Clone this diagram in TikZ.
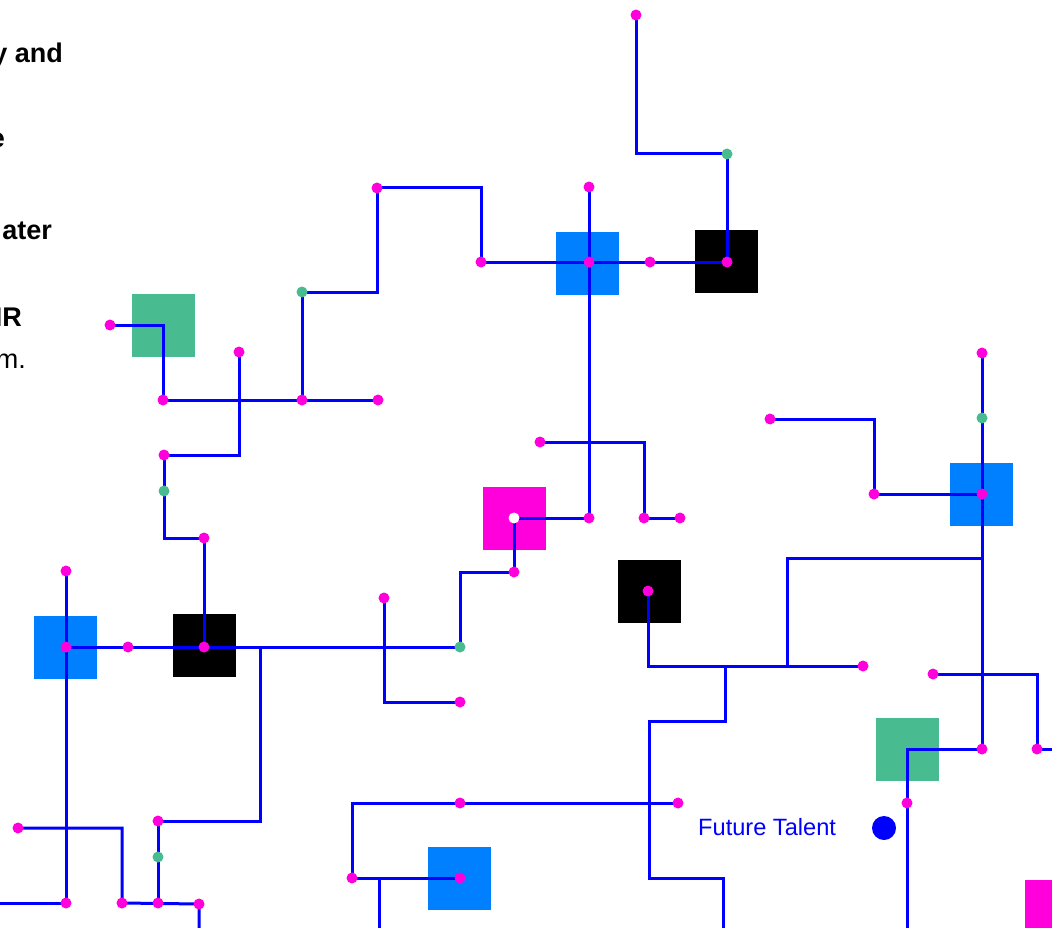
\documentclass[tikz,border=0pt]{standalone}
\usepackage{fontspec}
\setmainfont{Liberation Sans}
\definecolor{lineblue}{RGB}{0,0,255}
\definecolor{mag}{RGB}{255,0,221}
\definecolor{grn}{RGB}{72,187,145}
\definecolor{sqblue}{RGB}{0,128,255}
\begin{document}
\begin{tikzpicture}[x=1pt,y=-1pt,
  wire/.style={draw=lineblue,line width=3pt},
  mdot/.style={circle,fill=mag,inner sep=0pt,minimum size=11pt},
  gdot/.style={circle,fill=grn,inner sep=0pt,minimum size=11pt},
  wdot/.style={circle,fill=white,inner sep=0pt,minimum size=11pt},
  sq/.style={inner sep=0pt,minimum size=63pt,draw=none},
  boldtxt/.style={inner sep=0pt,anchor=base east,font=\fontsize{27}{31}\selectfont\bfseries},
  regtxt/.style={inner sep=0pt,anchor=base east,font=\fontsize{27}{31}\selectfont},
]
\useasboundingbox (0,0) rectangle (1052,928);
\clip (0,0) rectangle (1052,928);

% ---- coordinates of dots ----
\coordinate (m1) at (636,15);
\coordinate (m2) at (727,262);
\coordinate (m3) at (481,262);
\coordinate (m4) at (589,262);
\coordinate (m5) at (650,262);
\coordinate (m6) at (377,188);
\coordinate (m7) at (302,400);
\coordinate (m8) at (589,187);
\coordinate (m9) at (589,518);
\coordinate (m10) at (540,442);
\coordinate (m11) at (644,518);
\coordinate (m12) at (680,518);
\coordinate (m13) at (110,325);
\coordinate (m14) at (163,400);
\coordinate (m15) at (378,400);
\coordinate (m16) at (239,352);
\coordinate (m17) at (164,455);
\coordinate (m18) at (204,538);
\coordinate (m19) at (204,647);
\coordinate (m20) at (66,647);
\coordinate (m21) at (128,647);
\coordinate (m22) at (158,821);
\coordinate (m23) at (158,903);
\coordinate (m24) at (66,571);
\coordinate (m25) at (66,903);
\coordinate (m26) at (18,828);
\coordinate (m27) at (122,903);
\coordinate (m28) at (199,904);
\coordinate (m29) at (514,572);
\coordinate (m30) at (384,598);
\coordinate (m31) at (460,702);
\coordinate (m32) at (648,591);
\coordinate (m33) at (863,666);
\coordinate (m34) at (982,353);
\coordinate (m35) at (982,494);
\coordinate (m36) at (982,749);
\coordinate (m37) at (770,419);
\coordinate (m38) at (874,494);
\coordinate (m39) at (933,674);
\coordinate (m40) at (1037,749);
\coordinate (m41) at (907,803);
\coordinate (m42) at (352,878);
\coordinate (m43) at (460,803);
\coordinate (m44) at (678,803);
\coordinate (m45) at (460,878);
\coordinate (g1) at (727,154);
\coordinate (g2) at (302,292);
\coordinate (g3) at (164,491);
\coordinate (g4) at (158,857);
\coordinate (g5) at (460,647);
\coordinate (g6) at (982,418);
\coordinate (w) at (514,518);
% ---- corner / edge coordinates ----
\coordinate (c2) at (260,647);
\coordinate (c3) at (787,666);
\coordinate (c4) at (982,558);
\coordinate (c5) at (725,666);
\coordinate (c6) at (649,721);
\coordinate (c7) at (723,878);
\coordinate (c8) at (379,878);
\coordinate (e1) at (0,903);
\coordinate (e2) at (199,928);
\coordinate (e3) at (723,928);
\coordinate (e4) at (1052,749);
\coordinate (e5) at (907,928);
\coordinate (e6) at (379,928);

% ---- squares ----
\node[sq,fill=grn] (sqG1) at (163.5,325.5) {};
\node[sq,fill=sqblue] (sqBT) at (587.5,263.5) {};
\node[sq,fill=black] (sqKT) at (726.5,261.5) {};
\node[sq,fill=mag] (sqM) at (514.5,518.5) {};
\node[sq,fill=black] (sqKM) at (649.5,591.5) {};
\node[sq,fill=sqblue] (sqBR) at (981.5,494.5) {};
\node[sq,fill=sqblue] (sqBL) at (65.5,647.5) {};
\node[sq,fill=black] (sqKL) at (204.5,645.5) {};
\node[sq,fill=grn] (sqG2) at (907.5,749.5) {};
\node[sq,fill=sqblue] (sqBB) at (459.5,878.5) {};
\node[sq,fill=mag] (sqMB) at (1056.5,911.5) {};

% ---- wires ----
\draw[wire] (m1) |- (g1) -- (m2);
\draw[wire] (m3) -- (m2);
\draw[wire] (m3) |- (m6);
\draw[wire] (m6) |- (g2) -- (m7);
\draw[wire] (m8) -- (m9);
\draw[wire] (w) -- (m9);
\draw[wire] (m10) -| (m11) -- (m12);
\draw[wire] (m13) -| (m14) -- (m15);
\draw[wire] (m16) |- (m17);
\draw[wire] (m17) |- (m18) -- (m19);
\draw[wire] (m20) -- (g5);
\draw[wire] (c2) |- (m22);
\draw[wire] (m22) -- (m23);
\draw[wire] (m24) -- (m25) -- (e1);
\draw[wire] (m26) -| (m27) -- (m28) -- (e2);
\draw[wire] (g5) |- (m29) -- (w);
\draw[wire] (m30) |- (m31);
\draw[wire] (m32) |- (m33);
\draw[wire] (c3) |- (c4);
\draw[wire] (c5) |- (c6) |- (c7) -- (e3);
\draw[wire] (m34) -- (m36);
\draw[wire] (m37) -| (m38) -- (m35);
\draw[wire] (m39) -| (m40) -- (e4);
\draw[wire] (m36) -| (m41) -- (e5);
\draw[wire] (m42) |- (m44);
\draw[wire] (m42) -- (m45);
\draw[wire] (c8) -- (e6);

% ---- dots ----
\foreach \p in {m1,m2,m3,m4,m5,m6,m7,m8,m9,m10,m11,m12,m13,m14,m15,m16,m17,m18,m19,m20,m21,m22,m23,m24,m25,m26,m27,m28,m29,m30,m31,m32,m33,m34,m35,m36,m37,m38,m39,m40,m41,m42,m43,m44,m45}
  \node[mdot] (d\p) at (\p) {};
\foreach \p in {g1,g2,g3,g4,g5,g6}
  \node[gdot] (d\p) at (\p) {};
\node[wdot] (dw) at (w) {};

% ---- legend ----
\node[circle,fill=lineblue,inner sep=0pt,minimum size=24pt] (legdot) at (884,828) {};
\node[inner sep=0pt,anchor=base west,text=lineblue,font=\fontsize{23.6}{27}\selectfont] (legtxt) at (698,835) {Future Talent};

% ---- clipped text at left ----
\node[boldtxt] (t1) at (63,63) {y and};
\node[boldtxt] (t2) at (5,148) {e};
\node[boldtxt] (t3) at (52,240) {ater};
\node[boldtxt] (t4) at (22,326) {IR};
\node[regtxt] (t5) at (26,368) {m.};
\end{tikzpicture}
\end{document}
